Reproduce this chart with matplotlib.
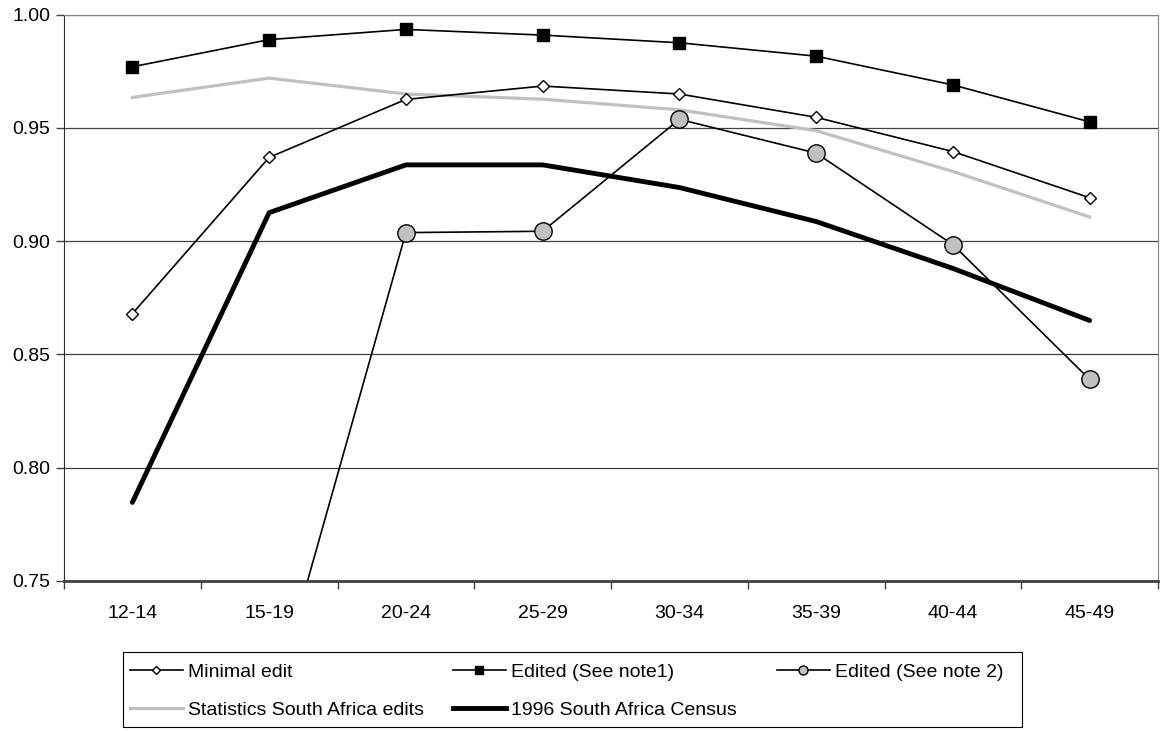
import numpy as np
import matplotlib.pyplot as plt
from matplotlib.lines import Line2D
from matplotlib.patches import Rectangle

plt.rcParams['font.family'] = ['Liberation Sans', 'DejaVu Sans']

# age groups and series
ages = ["12-14", "15-19", "20-24", "25-29", "30-34", "35-39", "40-44", "45-49"]
minimal_edit = [0.868, 0.937, 0.9626, 0.9685, 0.965, 0.9547, 0.9396, 0.9192]
edited_note1 = [0.977, 0.989, 0.9935, 0.991, 0.9876, 0.9817, 0.969, 0.9527]
edited_note2 = [np.nan, 0.690, 0.9038, 0.9044, 0.9538, 0.9389, 0.8985, 0.839]
statssa_edits = [0.9635, 0.972, 0.965, 0.9627, 0.958, 0.9488, 0.9308, 0.9107]
census_1996 = [0.7847, 0.9126, 0.9337, 0.9337, 0.9237, 0.9087, 0.888, 0.865]

W, H = 1160, 731
fig = plt.figure(figsize=(W/100, H/100), dpi=100)
ax = fig.add_axes([64/W, 1-581/H, (1158-64)/W, (581-14.7)/H])

x = np.arange(len(ages))
grey = '#c0c0c0'

ax.plot(x, minimal_edit, color='k', lw=1.2, marker='D', ms=6, mfc='white', mec='k', mew=1, zorder=3)
ax.plot(x, edited_note1, color='k', lw=1.2, marker='s', ms=8, mfc='k', mec='k', zorder=3)
ax.plot(x, statssa_edits, color=grey, lw=2.3, zorder=2)
ax.plot(x, census_1996, color='k', lw=3.5, solid_capstyle='round', zorder=2)
ax.plot(x, edited_note2, color='k', lw=1.2, marker='o', ms=12.5, mfc=grey, mec='k', mew=1, zorder=4)

ax.set_xlim(-0.5, len(ages)-0.5)
ax.set_ylim(0.75, 1.00)
ax.set_yticks(np.arange(0.75, 1.001, 0.05))
ax.set_yticklabels(["%.2f" % v for v in np.arange(0.75, 1.001, 0.05)])
ax.set_xticks(x)
ax.set_xticklabels(ages)
ax.set_xticks(np.arange(-0.5, len(ages)), minor=True)
ax.tick_params(axis='x', which='major', length=0, pad=17, labelsize=14)
ax.tick_params(axis='x', which='minor', length=6, width=1, color='#404040', direction='out')
ax.tick_params(axis='y', length=6, width=1, pad=4, labelsize=14, color='#404040')

ax.yaxis.grid(True, color='#404040', lw=0.9)
ax.set_axisbelow(True)
ax.spines['left'].set_color('#303030')
ax.spines['bottom'].set_color('#404040')
ax.spines['bottom'].set_linewidth(2)
ax.spines['right'].set_color('#808080')
ax.spines['top'].set_color('#808080')
for s in ax.spines.values():
    s.set_zorder(5)

# legend: three columns, two rows, fixed column positions like the source
h_min = Line2D([], [], color='k', lw=1.2, marker='D', ms=4.2, mfc='white', mec='k', mew=1)
h_n1 = Line2D([], [], color='k', lw=1.2, marker='s', ms=5.5, mfc='k', mec='k')
h_n2 = Line2D([], [], color='k', lw=1.2, marker='o', ms=6.5, mfc=grey, mec='k', mew=1)
h_ssa = Line2D([], [], color=grey, lw=2.3)
h_cen = Line2D([], [], color='k', lw=3.5)

cols = [
    ([h_min, h_ssa], ["Minimal edit", "Statistics South Africa edits"], 130),
    ([h_n1, h_cen], ["Edited (See note1)", "1996 South Africa Census"], 453),
    ([h_n2], ["Edited (See note 2)"], 777),
]
for hs, ls, xp in cols:
    fig.legend(hs, ls, loc='upper left', bbox_to_anchor=(xp/W, 1-663/H),
               frameon=False, fontsize=14, handlelength=2.7, handletextpad=0.3,
               borderpad=0, borderaxespad=0, labelspacing=1.05)

fig.add_artist(Rectangle((123/W, 1-727/H), (1022-123)/W, (727-652)/H,
                         transform=fig.transFigure, fill=False, ec='k', lw=0.8))

fig.savefig('out.png', dpi=100)
